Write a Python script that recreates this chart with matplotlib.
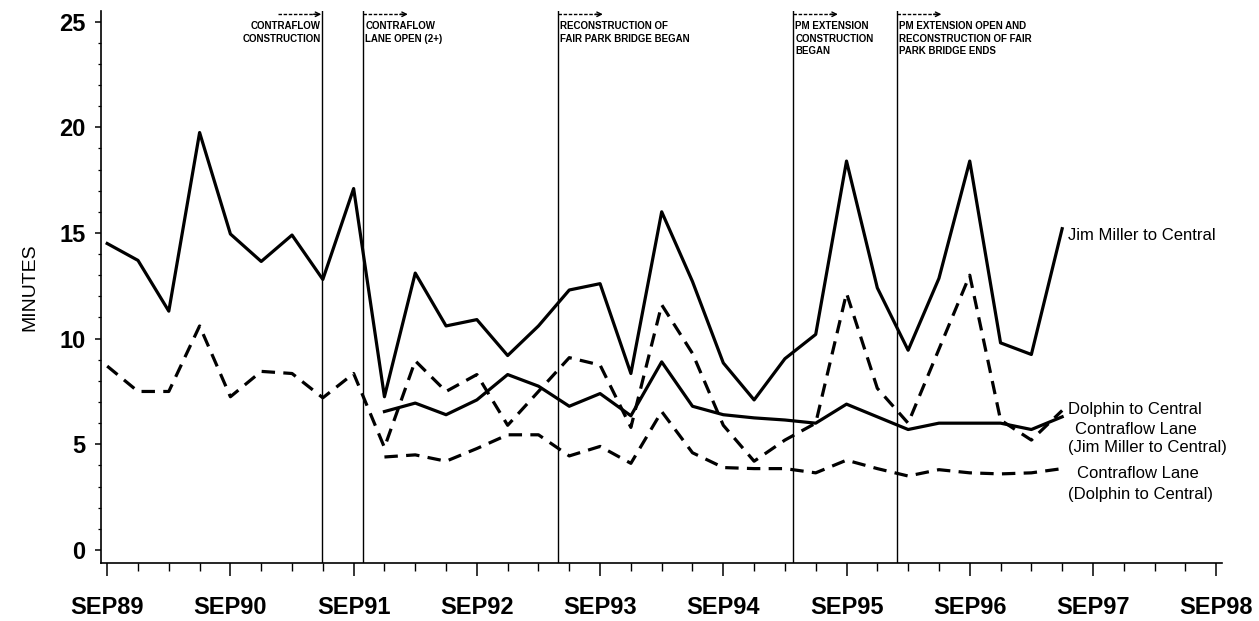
import numpy as np
import matplotlib
matplotlib.use("Agg")
import matplotlib.pyplot as plt
from matplotlib.ticker import MultipleLocator
from matplotlib.transforms import blended_transform_factory

# quarterly observations, index 0 = SEP89
jim_miller = [14.5, 13.7, 11.3, 19.75, 14.95, 13.65, 14.9, 12.8, 17.1, 7.25,
              13.1, 10.6, 10.9, 9.2, 10.6, 12.3, 12.6, 8.35, 16.0, 12.7,
              8.85, 7.1, 9.05, 10.2, 18.4, 12.4, 9.45, 12.85, 18.4, 9.8,
              9.25, 15.2]
dolphin = [8.7, 7.5, 7.5, 10.6, 7.25, 8.45, 8.35, 7.2, 8.35, 4.85,
           8.95, 7.5, 8.3, 5.9, 7.5, 9.1, 8.75, 5.8, 11.6, 9.3,
           5.9, 4.2, 5.2, 6.0, 12.15, 7.65, 6.0, 9.5, 13.0, 6.15,
           5.2, 6.6]
# contraflow lane opens in the 10th quarter (index 9)
cf_start = 9
cf_jim_miller = [6.55, 6.95, 6.4, 7.1, 8.3, 7.75, 6.8, 7.4, 6.35, 8.9,
                 6.8, 6.4, 6.25, 6.15, 6.0, 6.9, 6.3, 5.7, 6.0, 6.0,
                 6.0, 5.7, 6.3]
cf_dolphin = [4.4, 4.5, 4.2, 4.8, 5.45, 5.45, 4.45, 4.9, 4.1, 6.55,
              4.6, 3.9, 3.85, 3.85, 3.65, 4.25, 3.85, 3.5, 3.8, 3.65,
              3.6, 3.65, 3.85]

year_labels = ["SEP89", "SEP90", "SEP91", "SEP92", "SEP93",
               "SEP94", "SEP95", "SEP96", "SEP97", "SEP98"]

# events, in quarters after SEP89
event_x = [6.98, 8.31, 14.64, 22.27, 25.63]
event_text = ["CONTRAFLOW\nCONSTRUCTION",
              "CONTRAFLOW\nLANE OPEN (2+)",
              "RECONSTRUCTION OF\nFAIR PARK BRIDGE BEGAN",
              "PM EXTENSION\nCONSTRUCTION\nBEGAN",
              "PM EXTENSION OPEN AND\nRECONSTRUCTION OF FAIR\nPARK BRIDGE ENDS"]

NARROW = ["Liberation Sans Narrow", "Liberation Sans", "DejaVu Sans"]
SANS = ["Liberation Sans", "DejaVu Sans"]

fig = plt.figure(figsize=(12.59, 6.21), dpi=100)
ax = fig.add_axes([0.080, 0.0929, 0.8904, 0.8894])

q = np.arange(len(jim_miller))
qc = np.arange(cf_start, cf_start + len(cf_jim_miller))
dash = (0, (4.2, 2.6))

ax.plot(q, jim_miller, color="black", lw=2.3)
ax.plot(q, dolphin, color="black", lw=2.3, ls=dash)
ax.plot(qc, cf_jim_miller, color="black", lw=2.3)
ax.plot(qc, cf_dolphin, color="black", lw=2.3, ls=dash)

ax.set_xlim(-0.21, 36.18)
ax.set_ylim(-0.63, 25.5)

for s in ["top", "right"]:
    ax.spines[s].set_visible(False)
for s in ["left", "bottom"]:
    ax.spines[s].set_linewidth(1.2)

ax.set_xticks(np.arange(0, 4 * len(year_labels), 4))
ax.set_xticklabels(year_labels, family=NARROW, weight="bold", fontsize=17)
ax.xaxis.set_minor_locator(MultipleLocator(1))
ax.set_yticks(np.arange(0, 26, 5))
ax.set_yticklabels([str(v) for v in range(0, 26, 5)], family=NARROW,
                   weight="bold", fontsize=17)
ax.yaxis.set_minor_locator(MultipleLocator(1))
ax.tick_params(axis="x", which="major", length=9.5, width=1.1, pad=14)
ax.tick_params(axis="x", which="minor", length=5.5, width=1.0)
ax.tick_params(axis="y", which="major", length=4, width=1.1, pad=7)
ax.tick_params(axis="y", which="minor", length=2.5, width=0.9)

ax.set_ylabel("MINUTES", family=SANS, fontsize=14, labelpad=15)

# event markers with notes and arrows above
tr = blended_transform_factory(ax.transData, fig.transFigure)
for i, (ex, txt) in enumerate(zip(event_x, event_text)):
    ax.axvline(ex, color="black", lw=1.0)
    if i == 0:
        x0, x1, tx, ha = ex - 1.45, ex - 0.03, ex - 0.05, "right"
    else:
        x0, x1, tx, ha = ex, ex + 1.45, ex + 0.07, "left"
    ax.plot([x0, x1 - 0.15], [0.977, 0.977], transform=tr, color="black",
            lw=1.0, ls=(0, (2.5, 1.2)), clip_on=False)
    ax.annotate("", xy=(x1, 0.977), xytext=(x1 - 0.25, 0.977),
                xycoords=tr, textcoords=tr,
                arrowprops=dict(arrowstyle="->", lw=1.0, color="black",
                                shrinkA=0, shrinkB=0,
                                mutation_scale=8))
    ax.text(tx, 0.966, txt, transform=tr, ha=ha, va="top",
            family=NARROW, weight="bold", fontsize=7.0, linespacing=1.3)

# series labels at the right end
labels = [(31.19, 14.87, "Jim Miller to Central"),
          (31.19, 6.65, "Dolphin to Central"),
          (31.42, 5.72, "Contraflow Lane"),
          (31.19, 4.85, "(Jim Miller to Central)"),
          (31.48, 3.60, "Contraflow Lane"),
          (31.19, 2.62, "(Dolphin to Central)")]
for lx, ly, lt in labels:
    ax.text(lx, ly, lt, ha="left", va="center", family=SANS,
            fontsize=12.0, clip_on=False)

fig.savefig("out.png", dpi=100)
